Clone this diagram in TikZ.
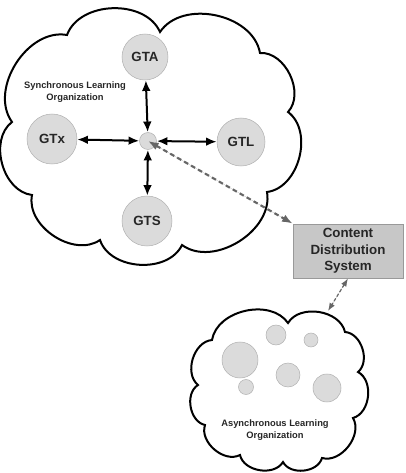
\documentclass[tikz,border=0pt]{standalone}
\usepackage{fontspec}
\setmainfont{Liberation Sans}
\usetikzlibrary{arrows.meta,positioning}

\begin{document}
\begin{tikzpicture}[x=0.75pt, y=-0.75pt,
          every node/.style={font=\bfseries, text=black!85},
          gt/.style={circle, draw=black!30, fill=black!14, minimum size=36pt, inner sep=0pt, font=\bfseries\fontsize{10}{11}\selectfont},
          blob/.style={circle, draw=black!30, fill=black!14, inner sep=0pt},
          cloudline/.style={draw=black, line width=1.5pt},
          puff/.style={bend left=68},
          arr/.style={{Latex[length=8pt,width=6.5pt]}-{Latex[length=8pt,width=6.5pt]}, line width=1.5pt},
          link/.style={{Latex[length=8pt,width=6pt]}-{Latex[length=8pt,width=6pt]}, draw=black!60, fill=black!60, dash pattern=on 3.5pt off 2.5pt, line width=1.6pt},
          lab/.style={font=\bfseries\fontsize{7}{9}\selectfont, align=center},
        ]
          \useasboundingbox (0,0) rectangle (405,473);

          %% synchronous cloud
          \draw[cloudline] (67,35) to[puff] (160,32) to[puff] (260,53) to[puff] (288,112)
                to[puff] (267,192) to[puff] (182,245) to[puff] (100,240) to[puff] (32,195)
                to[puff] (12,122) to[puff] cycle;
          \node[lab] (synlab) at (75,92) {Synchronous Learning\\Organization};

          %% group nodes round the hub
          \node[gt, minimum size=12.75pt] (hub) at (148,141) {};
          \node[gt, minimum size=34.5pt]  (gta) at (145,57)  {GTA};
          \node[gt, minimum size=37.5pt]  (gtx) at (52,139)  {GTx};
          \node[gt]                       (gtl) at (241,142) {GTL};
          \node[gt, minimum size=37.5pt]  (gts) at (147,221) {GTS};

          \draw[arr] (gta) -- (hub);
          \draw[arr] (gtx) -- (hub);
          \draw[arr] (gtl) -- (hub);
          \draw[arr] (gts) -- (hub);

          %% distribution box
          \node[draw=black!40, fill=black!22, minimum width=82.5pt, minimum height=35pt,
                font=\bfseries\fontsize{10}{12.5}\selectfont, align=center]
                (cds) at (348,251) {Content\\Distribution\\System};

          %% asynchronous cloud
          \draw[cloudline] (288,323) to[puff] (345,332) to[puff] (358,372) to[puff] (353,418)
                to[puff] (322,458) to[puff] (283,462) to[puff] (240,455) to[puff] (205,425)
                to[puff] (198,385) to[puff] (212,340) to[puff] cycle;
          \coordinate (atop) at (328,311);
          \node[blob, minimum size=27pt]    (a1) at (240,360) {};
          \node[blob, minimum size=15pt]    (a2) at (276,335) {};
          \node[blob, minimum size=10.5pt]  (a3) at (311,340) {};
          \node[blob, minimum size=18pt]    (a4) at (288,375) {};
          \node[blob, minimum size=11.25pt] (a5) at (246,387) {};
          \node[blob, minimum size=21pt]    (a6) at (327,388) {};
          \node[lab] (asylab) at (275,430) {Asynchronous Learning\\Organization};

          %% dashed links
          \draw[link] (hub.center) -- (cds.north west);
          \draw[link, line width=0.9pt, dash pattern=on 2.5pt off 1.5pt,
                {Latex[length=6pt,width=4.5pt]}-{Latex[length=6pt,width=4.5pt]}] (cds.south) -- (atop);
        \end{tikzpicture}
\end{document}
